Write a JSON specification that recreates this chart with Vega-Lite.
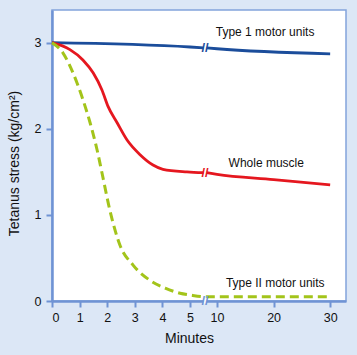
{
  "$schema": "https://vega.github.io/schema/vega-lite/v6.json",
  "width": 294,
  "height": 291,
  "autosize": {"type": "none"},
  "padding": {"left": 52, "top": 10, "right": 11, "bottom": 54},
  "background": "#dce7f6",
  "config": {
    "view": {"stroke": "#82a4dc", "strokeWidth": 1.5, "fill": "white"},
    "font": "Liberation Sans",
    "axis": {
      "domainColor": "#6f93d4", "domainWidth": 2.5, "tickColor": "#6f93d4", "tickWidth": 2, "tickSize": 6,
      "labelFont": "Liberation Sans", "labelFontSize": 12.5, "labelColor": "#111", "titleFont": "Liberation Sans",
      "titleFontSize": 14, "titleFontWeight": "normal", "titleColor": "#111", "grid": false, "labelOverlap": false
    }
  },
  "datasets": {
    "lines": [
      {"series": "Type 1", "seg": "a", "x": 0, "y": 3.0},
      {"series": "Type 1", "seg": "a", "x": 5, "y": 2.95},
      {"series": "Type 1", "seg": "a", "x": 7.5, "y": 2.94},
      {"series": "Type 1", "seg": "b", "x": 8.1, "y": 2.94},
      {"series": "Type 1", "seg": "b", "x": 10, "y": 2.93},
      {"series": "Type 1", "seg": "b", "x": 30, "y": 2.87},
      {"series": "Whole", "seg": "a", "x": 0, "y": 3.0},
      {"series": "Whole", "seg": "a", "x": 0.65, "y": 2.92},
      {"series": "Whole", "seg": "a", "x": 1.12, "y": 2.8},
      {"series": "Whole", "seg": "a", "x": 1.49, "y": 2.65},
      {"series": "Whole", "seg": "a", "x": 1.81, "y": 2.45},
      {"series": "Whole", "seg": "a", "x": 2.03, "y": 2.26},
      {"series": "Whole", "seg": "a", "x": 2.36, "y": 2.07},
      {"series": "Whole", "seg": "a", "x": 2.72, "y": 1.87},
      {"series": "Whole", "seg": "a", "x": 3.19, "y": 1.7},
      {"series": "Whole", "seg": "a", "x": 3.66, "y": 1.58},
      {"series": "Whole", "seg": "a", "x": 4.02, "y": 1.53},
      {"series": "Whole", "seg": "a", "x": 4.89, "y": 1.5},
      {"series": "Whole", "seg": "a", "x": 7.5, "y": 1.49},
      {"series": "Whole", "seg": "b", "x": 8.1, "y": 1.49},
      {"series": "Whole", "seg": "b", "x": 10, "y": 1.47},
      {"series": "Whole", "seg": "b", "x": 20, "y": 1.41},
      {"series": "Whole", "seg": "b", "x": 30, "y": 1.35},
      {"series": "Type II", "seg": "a", "x": 0, "y": 3.0},
      {"series": "Type II", "seg": "a", "x": 0.4, "y": 2.88},
      {"series": "Type II", "seg": "a", "x": 0.76, "y": 2.65},
      {"series": "Type II", "seg": "a", "x": 1.12, "y": 2.34},
      {"series": "Type II", "seg": "a", "x": 1.38, "y": 2.07},
      {"series": "Type II", "seg": "a", "x": 1.63, "y": 1.76},
      {"series": "Type II", "seg": "a", "x": 1.81, "y": 1.49},
      {"series": "Type II", "seg": "a", "x": 2.1, "y": 1.05},
      {"series": "Type II", "seg": "a", "x": 2.46, "y": 0.65},
      {"series": "Type II", "seg": "a", "x": 2.93, "y": 0.42},
      {"series": "Type II", "seg": "a", "x": 3.55, "y": 0.24},
      {"series": "Type II", "seg": "a", "x": 4.1, "y": 0.15},
      {"series": "Type II", "seg": "a", "x": 4.64, "y": 0.09},
      {"series": "Type II", "seg": "a", "x": 5, "y": 0.07},
      {"series": "Type II", "seg": "a", "x": 7.8, "y": 0.05},
      {"series": "Type II", "seg": "a", "x": 30, "y": 0.05}
    ],
    "breaks": [
      {"series": "Type 1", "x": 7.8, "y": 2.94},
      {"series": "Whole", "x": 7.8, "y": 1.49},
      {"series": "axis", "x": 7.8, "y": 0}
    ],
    "labels": [
      {"series": "Type 1", "x": 18.5, "y": 3.12, "text": "Type 1 motor units"},
      {"series": "Whole", "x": 18.7, "y": 1.6, "text": "Whole muscle"},
      {"series": "Type II", "x": 20.3, "y": 0.21, "text": "Type II motor units"}
    ]
  },
  "layer": [
    {
      "data": {"name": "lines"},
      "transform": [{"filter": "datum.series !== 'Type II'"}],
      "mark": {"type": "line", "strokeWidth": 2.8, "interpolate": "monotone"},
      "encoding": {
        "x": {
          "field": "x", "type": "quantitative",
          "scale": {"domain": [0, 5, 10, 32.8], "range": [0, 138, 165, 294], "nice": false, "zero": false},
          "axis": {"values": [0, 1, 2, 3, 4, 5, 10, 20, 30], "tickCount": 30, "labelOverlap": false, "format": "d", "title": "Minutes", "titleX": 137, "titleY": 37, "titleBaseline": "middle", "labelPadding": 4}
        },
        "y": {
          "field": "y", "type": "quantitative",
          "scale": {"domain": [0, 3.38], "nice": false},
          "axis": {"values": [0, 1, 2, 3], "format": "d", "title": "Tetanus stress (kg/cm²)", "titleX": -38, "titleY": 153, "titleBaseline": "middle", "labelPadding": 5}
        },
        "detail": {"field": "seg"},
        "color": {"field": "series", "type": "nominal", "legend": null,
          "scale": {"domain": ["Type 1", "Whole", "Type II", "axis"], "range": ["#1b4d9b", "#e5171f", "#a3c41a", "#6f93d4"]}}
      }
    },
    {
      "data": {"name": "lines"},
      "transform": [{"filter": "datum.series === 'Type II'"}],
      "mark": {"type": "line", "strokeWidth": 3, "strokeDash": [9, 5], "interpolate": "monotone"},
      "encoding": {
        "x": {"field": "x", "type": "quantitative"},
        "y": {"field": "y", "type": "quantitative"},
        "detail": {"field": "seg"},
        "color": {"field": "series", "type": "nominal", "legend": null}
      }
    },
    {
      "data": {"values": [{"x": 7.45, "x2": 8.15, "y": 0}]},
      "mark": {"type": "rule", "color": "white", "strokeWidth": 5, "clip": false},
      "encoding": {
        "x": {"field": "x", "type": "quantitative"},
        "x2": {"field": "x2"},
        "y": {"field": "y", "type": "quantitative"}
      }
    },
    {
      "data": {"name": "breaks"},
      "mark": {"type": "text", "text": "//", "fontSize": 13, "fontWeight": "bold", "clip": false, "font": "Liberation Sans"},
      "encoding": {
        "x": {"field": "x", "type": "quantitative"},
        "y": {"field": "y", "type": "quantitative"},
        "color": {"field": "series", "type": "nominal", "legend": null}
      }
    },
    {
      "data": {"name": "labels"},
      "mark": {"type": "text", "fontSize": 12, "color": "#111", "font": "Liberation Sans"},
      "encoding": {
        "x": {"field": "x", "type": "quantitative"},
        "y": {"field": "y", "type": "quantitative"},
        "text": {"field": "text"}
      }
    }
  ]
}
